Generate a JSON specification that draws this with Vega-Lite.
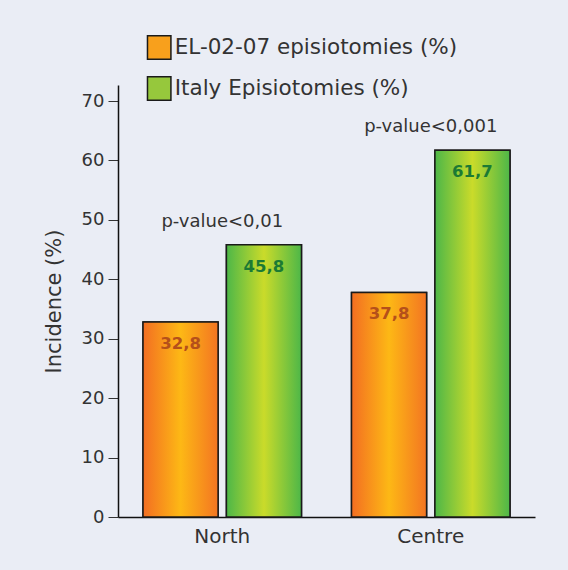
{
  "$schema": "https://vega.github.io/schema/vega-lite/v6.json",
  "autosize": "none",
  "width": 417,
  "height": 432,
  "padding": {"left": 118, "top": 85, "right": 33, "bottom": 53},
  "background": "#EAEDF5",
  "config": {
    "font": "DejaVu Sans",
    "view": {"stroke": null},
    "axis": {"labelFont": "DejaVu Sans", "titleFont": "DejaVu Sans", "labelFontSize": 18, "titleFontSize": 21, "labelColor": "#333333", "titleColor": "#333333", "titleFontWeight": "normal", "domainColor": "#111111", "domainWidth": 1.5, "tickColor": "#333333", "grid": false}
  },
  "datasets": {
    "bars": [
      {"region": "North", "series": "EL-02-07 episiotomies (%)", "value": 32.8, "label": "32,8"},
      {"region": "North", "series": "Italy Episiotomies (%)", "value": 45.8, "label": "45,8"},
      {"region": "Centre", "series": "EL-02-07 episiotomies (%)", "value": 37.8, "label": "37,8"},
      {"region": "Centre", "series": "Italy Episiotomies (%)", "value": 61.7, "label": "61,7"}
    ],
    "pvals": [
      {"region": "North", "top": 45.8, "p": "p-value<0,01"},
      {"region": "Centre", "top": 61.7, "p": "p-value<0,001"}
    ]
  },
  "encoding": {
    "x": {"field": "region", "type": "nominal", "sort": ["North", "Centre"], "scale": {"paddingInner": 0, "paddingOuter": 0},
      "axis": {"title": null, "labelAngle": 0, "ticks": false, "labelPadding": 9, "labelFontSize": 20, "domainColor": "#111111"}}
  },
  "layer": [
    {
      "data": {"name": "bars"},
      "mark": {"type": "bar", "stroke": "#1a1a1a", "strokeWidth": 1.5},
      "encoding": {
        "xOffset": {"field": "series", "type": "nominal", "scale": {"paddingInner": 0.1, "paddingOuter": 0.3}},
        "y": {"field": "value", "type": "quantitative", "scale": {"domain": [0, 72.7], "nice": false},
          "axis": {"title": "Incidence (%)", "values": [0, 10, 20, 30, 40, 50, 60, 70], "tickSize": 10, "labelPadding": 4, "titlePadding": 17}},
        "color": {"field": "series", "type": "nominal",
          "scale": {"domain": ["EL-02-07 episiotomies (%)", "Italy Episiotomies (%)"], "range": ["#F8A01C", "#96C83C"]},
          "legend": {"title": null, "orient": "none", "legendX": 28.7, "legendY": -50, "symbolType": "square", "symbolSize": 550, "symbolStrokeColor": "#1a1a1a", "symbolStrokeWidth": 1.5, "symbolOpacity": 1, "labelFontSize": 21.5, "labelLimit": 0, "labelColor": "#333333", "labelFont": "DejaVu Sans", "labelOffset": 3, "rowPadding": 10, "padding": 0}
        }
      }
    },
    {
      "data": {"name": "bars"},
      "mark": {"type": "bar", "stroke": "#1a1a1a", "strokeWidth": 1.5},
      "encoding": {
        "xOffset": {"field": "series", "type": "nominal", "scale": {"paddingInner": 0.1, "paddingOuter": 0.3}},
        "y": {"field": "value", "type": "quantitative"},
        "fill": {
          "condition": {"test": "datum.series === 'EL-02-07 episiotomies (%)'", "value": {"gradient": "linear", "x1": 0, "y1": 0, "x2": 1, "y2": 0, "stops": [{"offset": 0, "color": "#F36E22"}, {"offset": 0.5, "color": "#FDB815"}, {"offset": 1, "color": "#F37522"}]}},
          "value": {"gradient": "linear", "x1": 0, "y1": 0, "x2": 1, "y2": 0, "stops": [{"offset": 0, "color": "#4DB748"}, {"offset": 0.5, "color": "#CADB2A"}, {"offset": 1, "color": "#4DB748"}]}
        }
      }
    },
    {
      "data": {"name": "bars"},
      "mark": {"type": "text", "fontWeight": "bold", "fontSize": 16.5, "baseline": "middle", "dy": 22},
      "encoding": {
        "xOffset": {"field": "series", "type": "nominal", "scale": {"paddingInner": 0.1, "paddingOuter": 0.3}},
        "y": {"field": "value", "type": "quantitative"},
        "text": {"field": "label"},
        "color": {"condition": {"test": "datum.series === 'EL-02-07 episiotomies (%)'", "value": "#B5501A"}, "value": "#1B7A34"}
      }
    },
    {
      "data": {"name": "pvals"},
      "mark": {"type": "text", "fontSize": 18, "baseline": "middle", "dy": -23, "color": "#333333"},
      "encoding": {
        "y": {"field": "top", "type": "quantitative"},
        "text": {"field": "p"}
      }
    }
  ]
}
